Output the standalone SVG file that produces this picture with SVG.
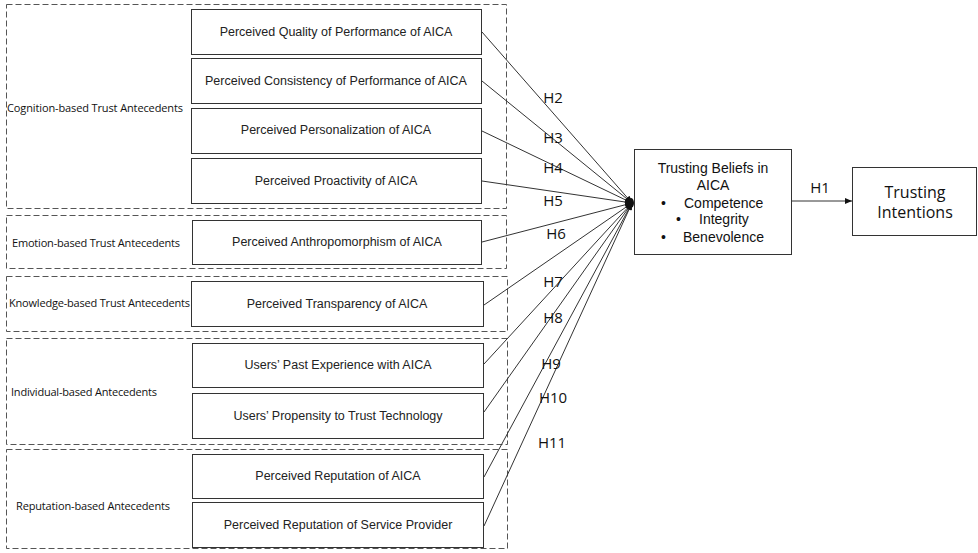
<svg xmlns="http://www.w3.org/2000/svg" width="978" height="553" viewBox="0 0 978 553">
<style>
.grp{fill:none;stroke:#555;stroke-width:1;stroke-dasharray:6 3}
.box{fill:#fff;stroke:#333;stroke-width:1}
.bt{font-family:"Liberation Sans",Arial,sans-serif;font-size:12.5px;fill:#222;text-anchor:middle;dominant-baseline:central}
.gt{font-family:"Open Sans","Liberation Sans",sans-serif;font-size:11px;fill:#111;dominant-baseline:central}
.ht{font-family:"Open Sans","DejaVu Sans",sans-serif;font-size:15px;fill:#111;text-anchor:middle;dominant-baseline:central}
.cn{fill:none;stroke:#333;stroke-width:1;marker-end:url(#ah)}
.tb{font-family:"Liberation Sans",Arial,sans-serif;font-size:14px;fill:#111;dominant-baseline:central}
</style>
<defs>
<marker id="ah" markerWidth="8" markerHeight="8" refX="7" refY="4" orient="auto" markerUnits="userSpaceOnUse">
<path d="M0,1 L7,4 L0,7 z" fill="#111"/>
</marker>
</defs>
<rect width="978" height="553" fill="#fff"/>

<g id="g-cognition">
<rect class="grp" x="6.5" y="4.5" width="500" height="204"/>
<text class="gt" x="7" y="107" textLength="176">Cognition-based Trust Antecedents</text>
</g>
<g id="g-emotion">
<rect class="grp" x="6.5" y="215.5" width="500" height="53"/>
<text class="gt" x="12" y="242" textLength="168">Emotion-based Trust Antecedents</text>
</g>
<g id="g-knowledge">
<rect class="grp" x="6.5" y="276.5" width="501" height="55"/>
<text class="gt" x="9" y="302" textLength="181">Knowledge-based Trust Antecedents</text>
</g>
<g id="g-individual">
<rect class="grp" x="6.5" y="338.5" width="501" height="106"/>
<text class="gt" x="11" y="391" textLength="146">Individual-based Antecedents</text>
</g>
<g id="g-reputation">
<rect class="grp" x="6.5" y="449.5" width="501" height="99"/>
<text class="gt" x="16" y="505" textLength="154">Reputation-based Antecedents</text>
</g>

<g id="n-quality"><rect class="box" x="191.5" y="9.5" width="290" height="45"/><text class="bt" x="336" y="32">Perceived Quality of Performance of AICA</text></g>
<g id="n-consistency"><rect class="box" x="191.5" y="58.5" width="290" height="45"/><text class="bt" x="336" y="81">Perceived Consistency of Performance of AICA</text></g>
<g id="n-personalization"><rect class="box" x="191.5" y="108.5" width="290" height="45"/><text class="bt" x="336" y="130">Perceived Personalization of AICA</text></g>
<g id="n-proactivity"><rect class="box" x="191.5" y="158.5" width="290" height="45"/><text class="bt" x="336" y="181">Perceived Proactivity of AICA</text></g>
<g id="n-anthropomorphism"><rect class="box" x="192.5" y="220.5" width="289" height="44"/><text class="bt" x="337" y="242">Perceived Anthropomorphism of AICA</text></g>
<g id="n-transparency"><rect class="box" x="191.5" y="281.5" width="292" height="45"/><text class="bt" x="337" y="304">Perceived Transparency of AICA</text></g>
<g id="n-past"><rect class="box" x="192.5" y="343.5" width="291" height="44"/><text class="bt" x="338" y="365">Users’ Past Experience with AICA</text></g>
<g id="n-propensity"><rect class="box" x="192.5" y="393.5" width="291" height="45"/><text class="bt" x="338" y="416">Users’ Propensity to Trust Technology</text></g>
<g id="n-repaica"><rect class="box" x="192.5" y="454.5" width="291" height="44"/><text class="bt" x="338" y="476">Perceived Reputation of AICA</text></g>
<g id="n-repprovider"><rect class="box" x="192.5" y="502.5" width="291" height="45"/><text class="bt" x="338" y="525">Perceived Reputation of Service Provider</text></g>

<g id="n-beliefs">
<rect class="box" x="634.5" y="149.5" width="157" height="105"/>
<text class="tb" x="713" y="168" text-anchor="middle">Trusting Beliefs in</text>
<text class="tb" x="713" y="185" text-anchor="middle">AICA</text>
<text class="tb" x="661" y="203">•</text><text class="tb" x="684" y="203">Competence</text>
<text class="tb" x="676" y="219">•</text><text class="tb" x="699" y="219">Integrity</text>
<text class="tb" x="661" y="237">•</text><text class="tb" x="683" y="237">Benevolence</text>
</g>
<g id="n-intentions">
<rect class="box" x="852.5" y="167.5" width="124" height="68"/>
<text class="ht" x="915" y="192" style="font-size:16px">Trusting</text>
<text class="ht" x="915" y="212" style="font-size:16px">Intentions</text>
</g>

<g id="connectors">
<path class="cn" d="M482,32 L632,203"/>
<path class="cn" d="M482,81 L632,203"/>
<path class="cn" d="M482,131 L632,203"/>
<path class="cn" d="M482,181 L632,203"/>
<path class="cn" d="M482,242 L632,203"/>
<path class="cn" d="M484,305 L632,203"/>
<path class="cn" d="M484,364 L632,203"/>
<path class="cn" d="M484,412 L632,203"/>
<path class="cn" d="M484,477 L632,203"/>
<path class="cn" d="M484,526 L632,203"/>
<path class="cn" d="M792,201 L852,201"/>
<ellipse cx="631" cy="203" rx="3" ry="5" fill="#111"/>
</g>

<g id="labels">
<text class="ht" x="553" y="97">H2</text>
<text class="ht" x="553" y="137">H3</text>
<text class="ht" x="553" y="167">H4</text>
<text class="ht" x="553" y="200">H5</text>
<text class="ht" x="556" y="233">H6</text>
<text class="ht" x="553" y="281">H7</text>
<text class="ht" x="553" y="317">H8</text>
<text class="ht" x="551" y="363">H9</text>
<text class="ht" x="553" y="397">H10</text>
<text class="ht" x="552" y="442">H11</text>
<text class="ht" x="820" y="187">H1</text>
</g>
</svg>
